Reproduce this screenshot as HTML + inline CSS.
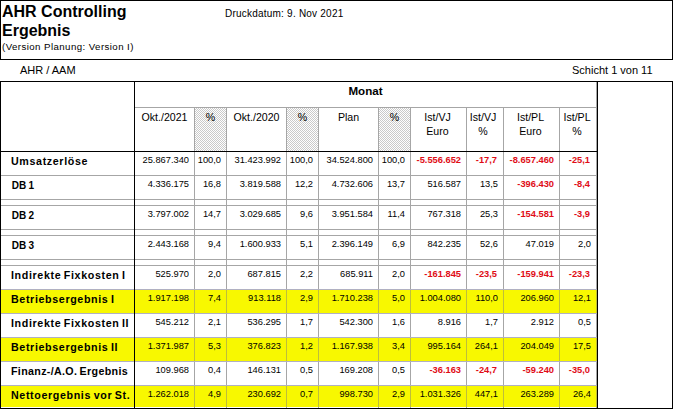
<!DOCTYPE html>
<html><head><meta charset="utf-8"><title>AHR Controlling Ergebnis</title>
<style>
html,body{margin:0;padding:0;background:#fff;}
body{width:673px;height:409px;position:relative;overflow:hidden;font-family:"Liberation Sans",sans-serif;color:#000;}
.a{position:absolute;}
.k{background:#000;}
.g{background:#a6a6a6;}
.t{position:absolute;white-space:nowrap;line-height:1;}
.n{position:absolute;white-space:nowrap;line-height:1;font-size:9.3px;text-align:right;}
.r{color:#e00c16;font-weight:bold;}
.l{position:absolute;white-space:nowrap;line-height:1;font-size:10.7px;font-weight:bold;left:11px;letter-spacing:0.63px;word-spacing:-1px;}
.fz{letter-spacing:0.33px;}
.db{font-size:10px;letter-spacing:0;word-spacing:-0.5px;left:11.7px;margin-top:0.6px;}
.h{position:absolute;white-space:nowrap;line-height:14px;font-size:10.6px;text-align:center;}
.y{background:#f8f800;}
.d{background-image:conic-gradient(#cacaca 25%,#fff 0 50%,#cacaca 0 75%,#fff 0);background-size:2px 2px;}
</style></head><body>

<div class="a k" style="left:0;top:0;width:673px;height:1px"></div>
<div class="a k" style="left:0;top:0;width:1px;height:60px"></div>
<div class="a k" style="left:672px;top:0;width:1px;height:60px"></div>
<div class="a k" style="left:0;top:59px;width:673px;height:1px"></div>
<div class="t" style="left:2px;top:3px;font-size:16px;font-weight:bold;line-height:18.7px">AHR Controlling<br>Ergebnis</div>
<div class="t" style="left:2px;top:41.8px;font-size:9.7px;letter-spacing:0.42px">(Version Planung: Version I)</div>
<div class="t" style="left:225px;top:9px;font-size:10px;letter-spacing:0.22px">Druckdatum: 9. Nov 2021</div>
<div class="t" style="left:20px;top:65px;font-size:11px">AHR / AAM</div>
<div class="t" style="left:572px;top:65px;font-size:11px">Schicht 1 von 11</div>
<div class="a k" style="left:0;top:81px;width:673px;height:1px"></div>
<div class="a k" style="left:0;top:81px;width:1px;height:328px"></div>
<div class="a k" style="left:672px;top:81px;width:1px;height:328px"></div>
<div class="a k" style="left:0;top:408px;width:673px;height:1px"></div>
<div class="a y" style="left:1px;top:290px;width:596px;height:23px"></div>
<div class="a y" style="left:1px;top:338px;width:596px;height:23px"></div>
<div class="a y" style="left:1px;top:386px;width:596px;height:21px"></div>
<div class="a d" style="left:195px;top:108px;width:31px;height:43px"></div>
<div class="a d" style="left:287px;top:108px;width:31px;height:43px"></div>
<div class="a d" style="left:379px;top:108px;width:31px;height:43px"></div>
<div class="a g" style="left:134px;top:107px;width:463px;height:1px"></div>
<div class="a g" style="left:1px;top:175px;width:596px;height:1px"></div>
<div class="a g" style="left:1px;top:199px;width:596px;height:1px"></div>
<div class="a g" style="left:1px;top:205px;width:596px;height:1px"></div>
<div class="a g" style="left:1px;top:229px;width:596px;height:1px"></div>
<div class="a g" style="left:1px;top:235px;width:596px;height:1px"></div>
<div class="a g" style="left:1px;top:259px;width:596px;height:1px"></div>
<div class="a g" style="left:1px;top:265px;width:596px;height:1px"></div>
<div class="a g" style="left:1px;top:289px;width:596px;height:1px"></div>
<div class="a g" style="left:1px;top:313px;width:596px;height:1px"></div>
<div class="a g" style="left:1px;top:337px;width:596px;height:1px"></div>
<div class="a g" style="left:1px;top:361px;width:596px;height:1px"></div>
<div class="a g" style="left:1px;top:385px;width:596px;height:1px"></div>
<div class="a g" style="left:194px;top:107px;width:1px;height:301px"></div>
<div class="a g" style="left:226px;top:107px;width:1px;height:301px"></div>
<div class="a g" style="left:286px;top:107px;width:1px;height:301px"></div>
<div class="a g" style="left:318px;top:107px;width:1px;height:301px"></div>
<div class="a g" style="left:378px;top:107px;width:1px;height:301px"></div>
<div class="a g" style="left:410px;top:107px;width:1px;height:301px"></div>
<div class="a g" style="left:466px;top:107px;width:1px;height:301px"></div>
<div class="a g" style="left:503px;top:107px;width:1px;height:301px"></div>
<div class="a g" style="left:559px;top:107px;width:1px;height:301px"></div>
<div class="a g" style="left:596px;top:82px;width:1px;height:326px"></div>
<div class="a" style="left:194px;top:290px;width:1px;height:23px;background:#bebe3a"></div>
<div class="a" style="left:226px;top:290px;width:1px;height:23px;background:#bebe3a"></div>
<div class="a" style="left:286px;top:290px;width:1px;height:23px;background:#bebe3a"></div>
<div class="a" style="left:318px;top:290px;width:1px;height:23px;background:#bebe3a"></div>
<div class="a" style="left:378px;top:290px;width:1px;height:23px;background:#bebe3a"></div>
<div class="a" style="left:410px;top:290px;width:1px;height:23px;background:#bebe3a"></div>
<div class="a" style="left:466px;top:290px;width:1px;height:23px;background:#bebe3a"></div>
<div class="a" style="left:503px;top:290px;width:1px;height:23px;background:#bebe3a"></div>
<div class="a" style="left:559px;top:290px;width:1px;height:23px;background:#bebe3a"></div>
<div class="a" style="left:596px;top:290px;width:1px;height:23px;background:#bebe3a"></div>
<div class="a" style="left:1px;top:289px;width:596px;height:1px;background:#b0b0c2"></div>
<div class="a" style="left:1px;top:313px;width:596px;height:1px;background:#b0b0c2"></div>
<div class="a" style="left:194px;top:338px;width:1px;height:23px;background:#bebe3a"></div>
<div class="a" style="left:226px;top:338px;width:1px;height:23px;background:#bebe3a"></div>
<div class="a" style="left:286px;top:338px;width:1px;height:23px;background:#bebe3a"></div>
<div class="a" style="left:318px;top:338px;width:1px;height:23px;background:#bebe3a"></div>
<div class="a" style="left:378px;top:338px;width:1px;height:23px;background:#bebe3a"></div>
<div class="a" style="left:410px;top:338px;width:1px;height:23px;background:#bebe3a"></div>
<div class="a" style="left:466px;top:338px;width:1px;height:23px;background:#bebe3a"></div>
<div class="a" style="left:503px;top:338px;width:1px;height:23px;background:#bebe3a"></div>
<div class="a" style="left:559px;top:338px;width:1px;height:23px;background:#bebe3a"></div>
<div class="a" style="left:596px;top:338px;width:1px;height:23px;background:#bebe3a"></div>
<div class="a" style="left:1px;top:337px;width:596px;height:1px;background:#b0b0c2"></div>
<div class="a" style="left:1px;top:361px;width:596px;height:1px;background:#b0b0c2"></div>
<div class="a" style="left:194px;top:386px;width:1px;height:21px;background:#bebe3a"></div>
<div class="a" style="left:226px;top:386px;width:1px;height:21px;background:#bebe3a"></div>
<div class="a" style="left:286px;top:386px;width:1px;height:21px;background:#bebe3a"></div>
<div class="a" style="left:318px;top:386px;width:1px;height:21px;background:#bebe3a"></div>
<div class="a" style="left:378px;top:386px;width:1px;height:21px;background:#bebe3a"></div>
<div class="a" style="left:410px;top:386px;width:1px;height:21px;background:#bebe3a"></div>
<div class="a" style="left:466px;top:386px;width:1px;height:21px;background:#bebe3a"></div>
<div class="a" style="left:503px;top:386px;width:1px;height:21px;background:#bebe3a"></div>
<div class="a" style="left:559px;top:386px;width:1px;height:21px;background:#bebe3a"></div>
<div class="a" style="left:596px;top:386px;width:1px;height:21px;background:#bebe3a"></div>
<div class="a" style="left:1px;top:385px;width:596px;height:1px;background:#b0b0c2"></div>
<div class="a k" style="left:0;top:151px;width:597px;height:1px"></div>
<div class="a k" style="left:134px;top:81px;width:1px;height:327px"></div>
<div class="a k" style="left:597px;top:81px;width:1px;height:327px"></div>
<div class="t" style="left:134px;width:463px;top:85px;font-size:11.6px;font-weight:bold;text-align:center">Monat</div>
<div class="h" style="left:135px;width:59px;top:110px">Okt./2021</div>
<div class="h" style="left:195px;width:31px;top:110px">%</div>
<div class="h" style="left:227px;width:59px;top:110px">Okt./2020</div>
<div class="h" style="left:287px;width:31px;top:110px">%</div>
<div class="h" style="left:319px;width:59px;top:110px">Plan</div>
<div class="h" style="left:379px;width:31px;top:110px">%</div>
<div class="h" style="left:410px;width:55px;top:110px">Ist/VJ<br>Euro</div>
<div class="h" style="left:465px;width:36px;top:110px">Ist/VJ<br>%</div>
<div class="h" style="left:503px;width:55px;top:110px">Ist/PL<br>Euro</div>
<div class="h" style="left:558.5px;width:37px;top:110px">Ist/PL<br>%</div>
<div class="l" style="top:156px">Umsatzerlöse</div>
<div class="n" style="left:135px;width:54px;top:156px">25.867.340</div>
<div class="n" style="left:195px;width:26px;top:156px">100,0</div>
<div class="n" style="left:227px;width:54px;top:156px">31.423.992</div>
<div class="n" style="left:287px;width:26px;top:156px">100,0</div>
<div class="n" style="left:319px;width:54px;top:156px">34.524.800</div>
<div class="n" style="left:379px;width:26px;top:156px">100,0</div>
<div class="n r" style="left:411px;width:50px;top:156px">-5.556.652</div>
<div class="n r" style="left:467px;width:30px;top:156px">-17,7</div>
<div class="n r" style="left:504px;width:50px;top:156px">-8.657.460</div>
<div class="n r" style="left:560px;width:30px;top:156px">-25,1</div>
<div class="l db" style="top:180px">DB 1</div>
<div class="n" style="left:135px;width:54px;top:180px">4.336.175</div>
<div class="n" style="left:195px;width:26px;top:180px">16,8</div>
<div class="n" style="left:227px;width:54px;top:180px">3.819.588</div>
<div class="n" style="left:287px;width:26px;top:180px">12,2</div>
<div class="n" style="left:319px;width:54px;top:180px">4.732.606</div>
<div class="n" style="left:379px;width:26px;top:180px">13,7</div>
<div class="n" style="left:411px;width:50px;top:180px">516.587</div>
<div class="n" style="left:467px;width:31px;top:180px">13,5</div>
<div class="n r" style="left:504px;width:50px;top:180px">-396.430</div>
<div class="n r" style="left:560px;width:30px;top:180px">-8,4</div>
<div class="l db" style="top:210px">DB 2</div>
<div class="n" style="left:135px;width:54px;top:210px">3.797.002</div>
<div class="n" style="left:195px;width:26px;top:210px">14,7</div>
<div class="n" style="left:227px;width:54px;top:210px">3.029.685</div>
<div class="n" style="left:287px;width:26px;top:210px">9,6</div>
<div class="n" style="left:319px;width:54px;top:210px">3.951.584</div>
<div class="n" style="left:379px;width:26px;top:210px">11,4</div>
<div class="n" style="left:411px;width:50px;top:210px">767.318</div>
<div class="n" style="left:467px;width:31px;top:210px">25,3</div>
<div class="n r" style="left:504px;width:50px;top:210px">-154.581</div>
<div class="n r" style="left:560px;width:30px;top:210px">-3,9</div>
<div class="l db" style="top:240px">DB 3</div>
<div class="n" style="left:135px;width:54px;top:240px">2.443.168</div>
<div class="n" style="left:195px;width:26px;top:240px">9,4</div>
<div class="n" style="left:227px;width:54px;top:240px">1.600.933</div>
<div class="n" style="left:287px;width:26px;top:240px">5,1</div>
<div class="n" style="left:319px;width:54px;top:240px">2.396.149</div>
<div class="n" style="left:379px;width:26px;top:240px">6,9</div>
<div class="n" style="left:411px;width:50px;top:240px">842.235</div>
<div class="n" style="left:467px;width:31px;top:240px">52,6</div>
<div class="n" style="left:504px;width:50px;top:240px">47.019</div>
<div class="n" style="left:560px;width:31px;top:240px">2,0</div>
<div class="l" style="top:270px">Indirekte Fixkosten I</div>
<div class="n" style="left:135px;width:54px;top:270px">525.970</div>
<div class="n" style="left:195px;width:26px;top:270px">2,0</div>
<div class="n" style="left:227px;width:54px;top:270px">687.815</div>
<div class="n" style="left:287px;width:26px;top:270px">2,2</div>
<div class="n" style="left:319px;width:54px;top:270px">685.911</div>
<div class="n" style="left:379px;width:26px;top:270px">2,0</div>
<div class="n r" style="left:411px;width:50px;top:270px">-161.845</div>
<div class="n r" style="left:467px;width:30px;top:270px">-23,5</div>
<div class="n r" style="left:504px;width:50px;top:270px">-159.941</div>
<div class="n r" style="left:560px;width:30px;top:270px">-23,3</div>
<div class="l" style="top:294px">Betriebsergebnis I</div>
<div class="n" style="left:135px;width:54px;top:294px">1.917.198</div>
<div class="n" style="left:195px;width:26px;top:294px">7,4</div>
<div class="n" style="left:227px;width:54px;top:294px">913.118</div>
<div class="n" style="left:287px;width:26px;top:294px">2,9</div>
<div class="n" style="left:319px;width:54px;top:294px">1.710.238</div>
<div class="n" style="left:379px;width:26px;top:294px">5,0</div>
<div class="n" style="left:411px;width:50px;top:294px">1.004.080</div>
<div class="n" style="left:467px;width:31px;top:294px">110,0</div>
<div class="n" style="left:504px;width:50px;top:294px">206.960</div>
<div class="n" style="left:560px;width:31px;top:294px">12,1</div>
<div class="l" style="top:318px">Indirekte Fixkosten II</div>
<div class="n" style="left:135px;width:54px;top:318px">545.212</div>
<div class="n" style="left:195px;width:26px;top:318px">2,1</div>
<div class="n" style="left:227px;width:54px;top:318px">536.295</div>
<div class="n" style="left:287px;width:26px;top:318px">1,7</div>
<div class="n" style="left:319px;width:54px;top:318px">542.300</div>
<div class="n" style="left:379px;width:26px;top:318px">1,6</div>
<div class="n" style="left:411px;width:50px;top:318px">8.916</div>
<div class="n" style="left:467px;width:31px;top:318px">1,7</div>
<div class="n" style="left:504px;width:50px;top:318px">2.912</div>
<div class="n" style="left:560px;width:31px;top:318px">0,5</div>
<div class="l" style="top:342px">Betriebsergebnis II</div>
<div class="n" style="left:135px;width:54px;top:342px">1.371.987</div>
<div class="n" style="left:195px;width:26px;top:342px">5,3</div>
<div class="n" style="left:227px;width:54px;top:342px">376.823</div>
<div class="n" style="left:287px;width:26px;top:342px">1,2</div>
<div class="n" style="left:319px;width:54px;top:342px">1.167.938</div>
<div class="n" style="left:379px;width:26px;top:342px">3,4</div>
<div class="n" style="left:411px;width:50px;top:342px">995.164</div>
<div class="n" style="left:467px;width:31px;top:342px">264,1</div>
<div class="n" style="left:504px;width:50px;top:342px">204.049</div>
<div class="n" style="left:560px;width:31px;top:342px">17,5</div>
<div class="l fz" style="top:366px">Finanz-/A.O. Ergebnis</div>
<div class="n" style="left:135px;width:54px;top:366px">109.968</div>
<div class="n" style="left:195px;width:26px;top:366px">0,4</div>
<div class="n" style="left:227px;width:54px;top:366px">146.131</div>
<div class="n" style="left:287px;width:26px;top:366px">0,5</div>
<div class="n" style="left:319px;width:54px;top:366px">169.208</div>
<div class="n" style="left:379px;width:26px;top:366px">0,5</div>
<div class="n r" style="left:411px;width:50px;top:366px">-36.163</div>
<div class="n r" style="left:467px;width:30px;top:366px">-24,7</div>
<div class="n r" style="left:504px;width:50px;top:366px">-59.240</div>
<div class="n r" style="left:560px;width:30px;top:366px">-35,0</div>
<div class="l" style="top:390px">Nettoergebnis vor St.</div>
<div class="n" style="left:135px;width:54px;top:390px">1.262.018</div>
<div class="n" style="left:195px;width:26px;top:390px">4,9</div>
<div class="n" style="left:227px;width:54px;top:390px">230.692</div>
<div class="n" style="left:287px;width:26px;top:390px">0,7</div>
<div class="n" style="left:319px;width:54px;top:390px">998.730</div>
<div class="n" style="left:379px;width:26px;top:390px">2,9</div>
<div class="n" style="left:411px;width:50px;top:390px">1.031.326</div>
<div class="n" style="left:467px;width:31px;top:390px">447,1</div>
<div class="n" style="left:504px;width:50px;top:390px">263.289</div>
<div class="n" style="left:560px;width:31px;top:390px">26,4</div>
</body></html>
